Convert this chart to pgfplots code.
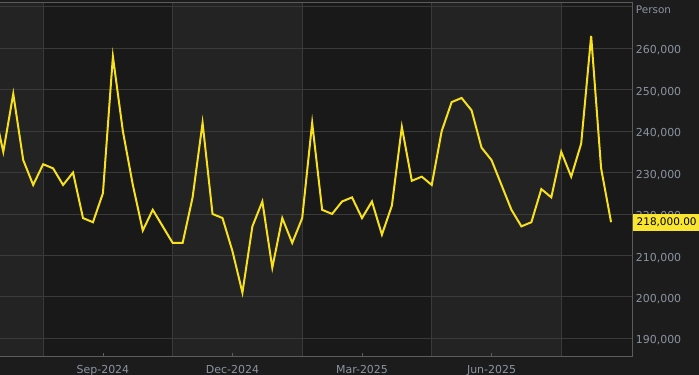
\documentclass[border=0pt]{standalone}
\usepackage{fontspec}
\setmainfont{DejaVu Sans}
\usepackage{pgfplots}
\usepackage{pgfplotstable}
\pgfplotsset{compat=1.18}
\definecolor{bgout}{HTML}{1C1C1C}
\definecolor{bandlight}{HTML}{232323}
\definecolor{banddark}{HTML}{191919}
\definecolor{gridc}{HTML}{3A3A3A}
\definecolor{framec}{HTML}{5C5C5C}
\definecolor{labc}{HTML}{8A94A0}
\definecolor{linec}{HTML}{F7E01E}
\definecolor{boxc}{HTML}{F9E530}

\pgfplotstableread{
i v
-1 246000
0 235000
1 249000
2 233000
3 227000
4 232000
5 231000
6 227000
7 230000
8 219000
9 218000
10 225000
11 258000
12 240000
13 227000
14 216000
15 221000
16 217000
17 213000
18 213000
19 224000
20 242000
21 220000
22 219000
23 211000
24 201000
25 217000
26 223000
27 207000
28 219000
29 213000
30 219000
31 242000
32 221000
33 220000
34 223000
35 224000
36 219000
37 223000
38 215000
39 222000
40 241000
41 228000
42 229000
43 227000
44 240000
45 247000
46 248000
47 245000
48 236000
49 233000
50 227000
51 221000
52 217000
53 218000
54 226000
55 224000
56 235000
57 229000
58 237000
59 263000
60 231000
61 218000
}\datatable

\begin{document}
\begin{tikzpicture}
\fill[bgout] (0,0) rectangle (699bp,375bp);
% alternating quarter bands of the plot area
\fill[bandlight] (0,19bp) rectangle (43.15bp,372.7bp);
\fill[banddark] (43.15bp,19bp) rectangle (172.7bp,372.7bp);
\fill[bandlight] (172.7bp,19bp) rectangle (302.2bp,372.7bp);
\fill[banddark] (302.2bp,19bp) rectangle (431.7bp,372.7bp);
\fill[bandlight] (431.7bp,19bp) rectangle (561.2bp,372.7bp);
\fill[banddark] (561.2bp,19bp) rectangle (632.5bp,372.7bp);
\begin{axis}[
  at={(0bp,19bp)}, anchor=south west,
  scale only axis, width=632.5bp, height=353.7bp,
  xmin=-0.331, xmax=63.15, ymin=185700, ymax=271100,
  axis line style={draw=none},
  tick align=inside,
  major tick length=3.3bp,
  xtick={10,23,36,49},
  xticklabels={Sep-2024,Dec-2024,Mar-2025,Jun-2025},
  xtick pos=lower,
  xtick style={draw=framec, line width=0.8bp},
  xticklabel style={anchor=base, inner sep=0pt, yshift=-17.3bp, text=labc, font=\fontsize{11}{13}\selectfont},
  extra x ticks={4,17,30,43,56},
  extra x tick labels={},
  extra x tick style={xmajorgrids=true, major tick length=0pt, tick style={draw=none}},
  ytick={190000,200000,210000,220000,230000,240000,250000,260000},
  yticklabels={{190,000},{200,000},{210,000},{220,000},{230,000},{240,000},{250,000},{260,000}},
  yticklabel pos=right,
  ytick style={draw=none},
  yticklabel style={anchor=base west, inner sep=0pt, xshift=3.2bp, yshift=-5.7bp, text=labc, font=\fontsize{11}{13}\selectfont},
  extra y ticks={270000},
  extra y tick labels={},
  ymajorgrids=true,
  grid style={draw=gridc, line width=0.8bp},
]
\addplot[linec, line width=2bp, line join=miter] table[x=i, y=v] {\datatable};
\coordinate (lastv) at (axis cs:61,218000);
\end{axis}
\draw[framec, line width=0.8bp] (0,372.7bp) -- (632.5bp,372.7bp) -- (632.5bp,19bp) -- (0,19bp);
\coordinate (rx) at (633bp,0);
\node[fill=boxc, anchor=west, inner xsep=3.5bp, minimum height=17bp, text=black, font=\fontsize{10.5}{12}\selectfont] at (lastv -| rx) {218,000.00};
\node[anchor=base west, inner sep=0pt, text=labc, font=\fontsize{10.5}{12}\selectfont] at (635.7bp,361bp) {Person};
\pgfresetboundingbox
\path[use as bounding box] (0,0) rectangle (699bp,375bp);
\end{tikzpicture}
\end{document}
